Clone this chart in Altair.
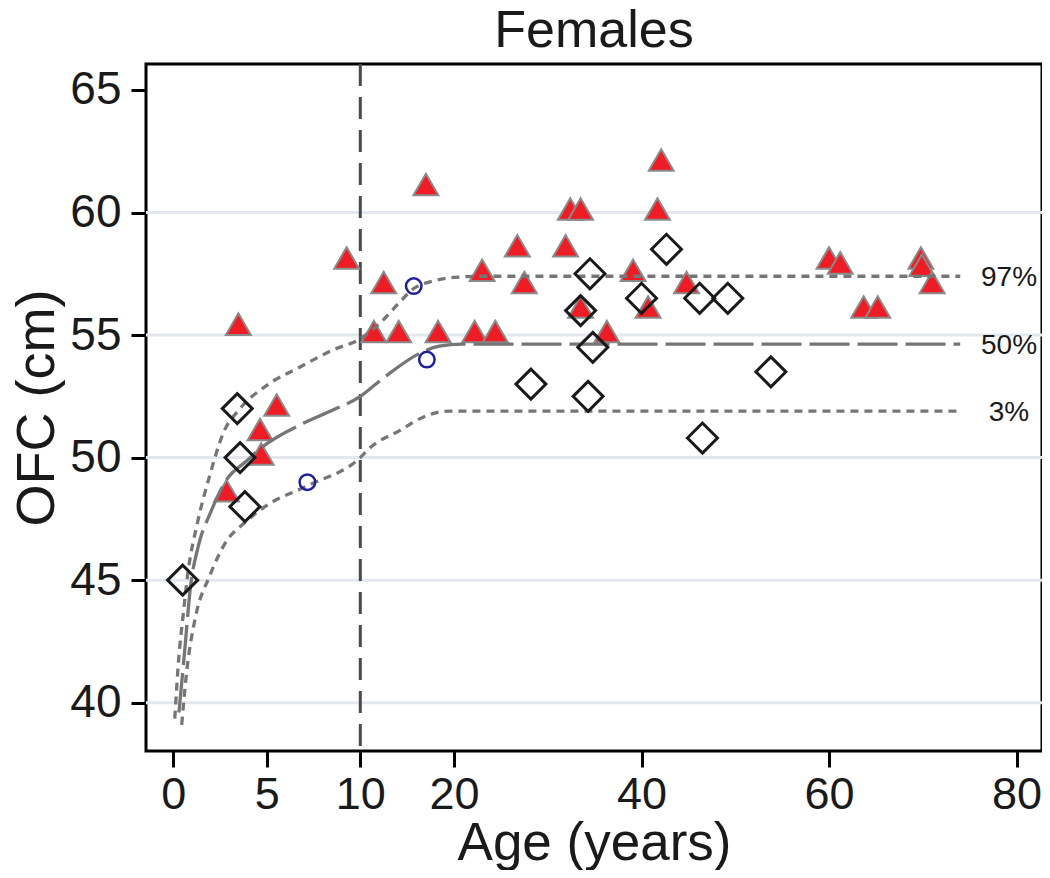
import altair as alt
import pandas as pd

# ---- data ----
tri_age = [2.85, 3.48, 4.7, 4.64, 5.53, 9.27, 11.45, 12.5, 14.1, 17.0, 18.3, 22.2, 23.0,
           24.4, 26.75, 27.5, 31.9, 32.4, 33.5, 33.5, 36.3, 39.1, 40.7, 41.7, 42.1, 44.8,
           60.0, 61.2, 63.7, 65.2, 69.8, 69.9, 71.0]
tri_ofc = [48.5, 55.3, 50.0, 51.0, 52.0, 58.0, 55.0, 57.0, 55.0, 61.0, 55.0, 55.0, 57.5,
           55.0, 58.5, 57.0, 58.5, 60.0, 60.0, 56.0, 55.0, 57.5, 56.0, 60.0, 62.0, 57.0,
           58.0, 57.8, 56.0, 56.0, 58.0, 57.7, 57.0]

dia_age = [0.5, 3.83, 3.57, 3.42, 28.2, 33.5, 34.3, 34.5, 34.8, 40.0, 42.66, 46.2, 46.5, 49.2, 53.8]
dia_ofc = [45.0, 48.0, 50.0, 52.0, 53.0, 56.0, 52.5, 57.5, 54.5, 56.5, 58.5, 56.5, 50.8, 56.5, 53.5]

circ_age = [7.17, 15.7, 17.1]
circ_ofc = [49.0, 57.0, 54.0]

p97_age = [0.08, 0.27, 0.53, 0.8, 1.25, 1.96, 2.67, 3.57, 5.0, 6.78, 8.56, 10.0, 12.4,
           14.1, 15.7, 17.7, 20.0, 23.0, 74.0]
p97_ofc = [39.35, 41.6, 43.6, 45.4, 47.2, 49.3, 51.0, 52.0, 52.95, 53.7, 54.4, 54.85, 55.6,
           56.3, 56.9, 57.2, 57.35, 57.4, 57.4]

p50_age = [0.3, 0.63, 0.9, 1.34, 1.96, 2.85, 3.9, 4.7, 6.95, 8.56, 10.0, 11.5, 13.15,
           16.3, 18.4, 20.9, 74.0]
p50_ofc = [39.6, 42.3, 44.6, 46.4, 47.7, 49.1, 49.85, 50.4, 51.4, 51.95, 52.5, 52.95, 53.45,
           54.25, 54.55, 54.63, 54.63]

p3_age = [0.45, 0.72, 1.16, 1.96, 2.85, 3.75, 5.0, 7.17, 10.0, 11.03, 14.2, 16.7, 19.5, 74.0]
p3_ofc = [39.1, 41.3, 43.4, 45.2, 46.6, 47.3, 48.05, 48.85, 50.0, 50.4, 51.1, 51.65, 51.9, 51.9]

lab_text = ["97%", "50%", "3%"]
lab_ofc = [57.4, 54.63, 51.9]
lab_age = [79.2, 79.2, 79.2]

grid_vals = [40, 45, 50, 55, 60]
x_ticks = [0, 5, 10, 20, 40, 60, 80]
y_ticks = [40, 45, 50, 55, 60, 65]
cut_age = [10]

FONT = "Liberation Sans"
W, H = 896, 687

xscale = alt.Scale(domain=[-1.46, 10, 82.72], range=[0, 214.3, W], nice=False, zero=False)
yscale = alt.Scale(domain=[38.03, 66.06], nice=False, zero=False)

xaxis = alt.Axis(values=x_ticks, title="Age (years)", grid=False, domain=False,
                 labelFontSize=45, titleFontSize=53, labelFont=FONT, titleFont=FONT,
                 titleFontWeight="normal", tickSize=16, tickWidth=3, tickColor="black",
                 labelPadding=5, titlePadding=0, labelColor="#1a1a1a",
                 titleColor="#1a1a1a", labelFlush=False)
yaxis = alt.Axis(values=y_ticks, title="OFC (cm)", grid=False, domain=False,
                 labelFontSize=46, titleFontSize=54, labelFont=FONT, titleFont=FONT,
                 titleFontWeight="normal", tickSize=15, tickWidth=3, tickColor="black",
                 labelPadding=10, titlePadding=5, labelColor="#1a1a1a",
                 titleColor="#1a1a1a", labelFlush=False)

def X():
    return alt.X("age:Q", scale=xscale, axis=xaxis)

def Y():
    return alt.Y("ofc:Q", scale=yscale, axis=yaxis)

grid = alt.Chart(pd.DataFrame({"ofc": grid_vals})).mark_rule(
    color="#e3e8ee", strokeWidth=3).encode(y=Y())

vline = alt.Chart(pd.DataFrame({"age": cut_age})).mark_rule(
    color="#4a4a4a", strokeWidth=3, strokeDash=[22, 11]).encode(x=X())

tri = alt.Chart(pd.DataFrame({"age": tri_age, "ofc": tri_ofc})).mark_point(
    shape="triangle-up", size=620, filled=True, fill="#ee1c24", stroke="#8a8a8a",
    strokeWidth=2, opacity=1, yOffset=-3.6).encode(x=X(), y=Y())

def curve(a, o, dash):
    return alt.Chart(pd.DataFrame({"age": a, "ofc": o})).mark_line(
        color="#767676", strokeWidth=3.3, strokeDash=dash, interpolate="monotone").encode(
        x=X(), y=Y())

c97 = curve(p97_age, p97_ofc, [8, 6])
c50 = curve(p50_age, p50_ofc, [40, 8])
c3 = curve(p3_age, p3_ofc, [8, 6])

labels = alt.Chart(pd.DataFrame({"age": lab_age, "ofc": lab_ofc, "t": lab_text})).mark_text(
    font=FONT, fontSize=28, align="center", baseline="middle", dy=1.5, color="#1a1a1a").encode(
    x=X(), y=Y(), text="t:N")

dia = alt.Chart(pd.DataFrame({"age": dia_age, "ofc": dia_ofc})).mark_point(
    shape="diamond", size=900, filled=False, stroke="#1a1a1a", strokeWidth=3,
    opacity=1).encode(x=X(), y=Y())

circ = alt.Chart(pd.DataFrame({"age": circ_age, "ofc": circ_ofc})).mark_point(
    shape="circle", size=240, filled=False, stroke="#1f1f9c", strokeWidth=2.5,
    opacity=1).encode(x=X(), y=Y())

chart = alt.layer(grid, vline, tri, c97, c50, c3, labels, dia, circ).properties(
    width=W, height=H,
    title=alt.TitleParams("Females", fontSize=52, font=FONT, fontWeight="normal",
                          color="#1a1a1a", offset=5, anchor="middle"),
    autosize=alt.AutoSizeParams(type="none"),
    padding={"left": 138, "top": 56, "right": 0, "bottom": 119},
    background="white",
).configure_view(stroke="black", strokeWidth=3)

chart.save("out.html", embed_options={"renderer": "svg", "actions": False})
